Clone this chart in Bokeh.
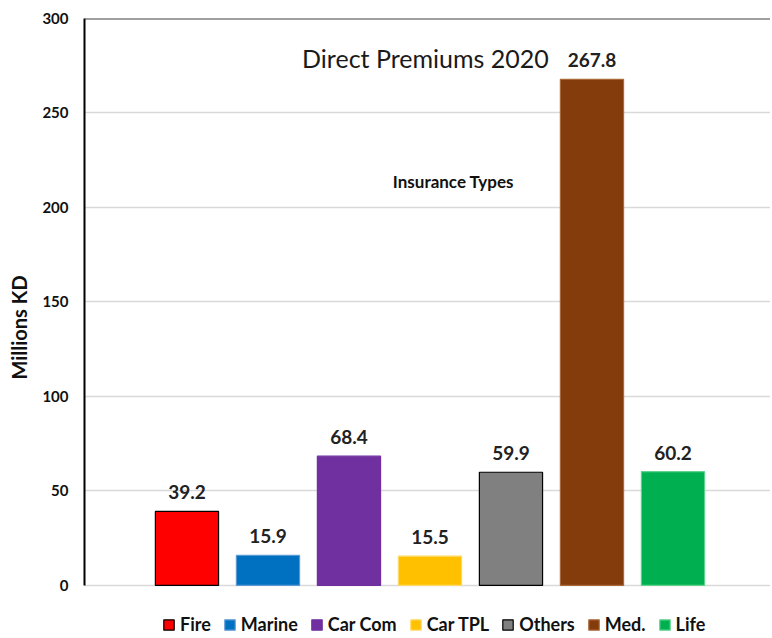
from bokeh.plotting import figure
from bokeh.models import ColumnDataSource, Legend, LegendItem, Span, Label, Range1d, LabelSet
from bokeh.core.properties import value
from bokeh.embed import file_html
from bokeh.resources import INLINE

categories = ["Fire", "Marine", "Car Com", "Car TPL", "Others", "Med.", "Life"]
values = [39.2, 15.9, 68.4, 15.5, 59.9, 267.8, 60.2]
colors = ["#FF0000", "#0070C0", "#7030A0", "#FFC000", "#808080", "#843C0C", "#00B050"]
outlines = ["#000000", "#5b9bd5", "#7030A0", "#ffd966", "#000000", "#a9673a", "#5fd38d"]
y_ticks = [0, 50, 100, 150, 200, 250, 300]
positions = list(range(1, len(categories) + 1))
labels = [f"{v:.1f}" for v in values]

FONT = "Lato"

p = figure(width=770, height=636, output_backend="svg", toolbar_location=None,
           x_range=Range1d(-0.265, 8.204), y_range=Range1d(-27, 300),
           min_border_left=84, min_border_top=18, min_border_right=0, min_border_bottom=0)
p.outline_line_color = None
p.background_fill_color = "white"
p.border_fill_color = "white"

src = ColumnDataSource(dict(x=positions, top=values, color=colors, line=outlines,
                            cat=categories, label=labels))

renderers = []
for i in range(len(categories)):
    r = p.vbar(x=[positions[i]], top=[values[i]], width=0.78,
               fill_color=colors[i], line_color=outlines[i], line_width=1.2)
    renderers.append(r)

p.add_layout(LabelSet(x="x", y="top", text="label", source=src, text_align="center",
                      text_baseline="bottom", y_offset=12, text_font=value(FONT),
                      text_font_style="bold", text_font_size="19px", text_color="#222222"))

p.xaxis.visible = False
p.xgrid.visible = False
p.ygrid.grid_line_color = "#d9d9d9"
p.ygrid.grid_line_width = 1.5
p.yaxis.ticker = y_ticks
p.yaxis.bounds = (0, 300)
p.yaxis.axis_line_color = "#000000"
p.yaxis.axis_line_width = 2
p.yaxis.major_tick_line_color = None
p.yaxis.minor_tick_line_color = None
p.yaxis.major_tick_out = 0
p.yaxis.major_label_text_font = FONT
p.yaxis.major_label_text_font_style = "bold"
p.yaxis.major_label_text_font_size = "15px"
p.yaxis.major_label_text_color = "#111111"
p.yaxis.major_label_standoff = 16
p.yaxis.axis_label = "Millions KD"
p.yaxis.axis_label_text_font = FONT
p.yaxis.axis_label_text_font_style = "bold"
p.yaxis.axis_label_text_font_size = "20px"
p.yaxis.axis_label_text_color = "#111111"
p.yaxis.axis_label_standoff = 8

p.add_layout(Span(location=300, dimension="width", line_color="#404040", line_width=2))

p.add_layout(Label(x=3.944, y=279, text="Direct Premiums 2020", text_align="center",
                   text_baseline="middle", text_font=FONT, text_font_size="25px",
                   text_color="#1a1a1a"))
p.add_layout(Label(x=4.29, y=214, text="Insurance Types", text_align="center",
                   text_baseline="middle", text_font=FONT, text_font_style="bold",
                   text_font_size="17px", text_color="#111111"))

items = [LegendItem(label=categories[i], renderers=[renderers[i]]) for i in range(len(categories))]
legend = Legend(items=items, orientation="horizontal", location=(78, 1),
                label_text_font=FONT, label_text_font_style="bold", label_text_font_size="18px",
                label_text_color="#111111", glyph_width=13, glyph_height=13,
                label_standoff=5, spacing=12, padding=1, margin=0,
                border_line_color=None, background_fill_alpha=0)
p.add_layout(legend, "center")

open("out.html", "w").write(file_html(p, INLINE))
